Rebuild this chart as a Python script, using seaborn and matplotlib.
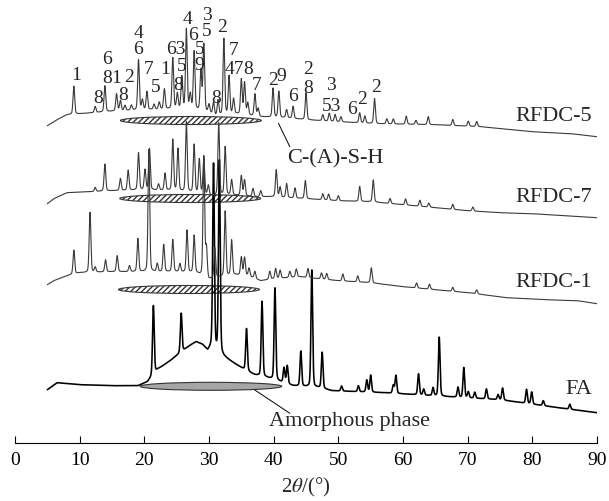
import numpy as np
import pandas as pd
import matplotlib
matplotlib.use("Agg")
import matplotlib.pyplot as plt
from matplotlib.patches import Ellipse
import seaborn as sns

# ---------------- data ----------------
# baselines: control points (2theta, plotted intensity incl. stacking offset)
fa_base_x = [5, 6.5, 10, 15, 19, 20.5, 22, 24, 26, 27, 28, 29, 29.8, 30.4, 32.3, 34, 35.5, 37, 39, 40.5, 43, 47, 49, 57, 67, 75, 84, 90]
fa_base_y = [53, 60, 58, 57, 57, 61, 73, 82, 92, 97, 101, 98, 92, 96, 86, 79, 73, 68, 65, 62, 57, 55, 52, 50, 46, 43, 35, 30]
fa_peak_pos = [21.4, 25.7, 30.7, 31.6, 35.8, 38.2, 40.2, 41.6, 42.1, 44.2, 45.9, 47.5, 50.5, 53.1, 54.4, 55.0,
               58.5, 58.9, 62.4, 63.2, 64.65, 65.6, 68.5, 69.4, 70.1, 71.1, 72.9, 74.7, 75.4, 79.1, 79.9, 81.7, 85.8]
fa_peak_amp = [69, 39, 184, 192, 42, 75, 92, 15, 18, 35, 117, 36, 5, 6, 12, 17,
               8, 18, 21, 6, 8, 59, 10, 30, 6, 6, 10, 5, 12, 14, 12, 5, 5]

r1_base_x = [5, 6, 8, 10, 15, 20, 25, 28, 30, 31, 34, 36, 38, 40, 44, 50, 55, 60, 65, 70, 76, 82, 87, 90]
r1_base_y = [158, 162, 167, 170, 171, 171, 171, 170, 163, 165, 168, 167, 162, 164, 166, 162, 160, 156, 153, 150, 145, 143, 142, 139]
r1_peak_pos = [9.1, 11.6, 12.4, 14.0, 15.8, 17.7, 19.0, 20.7, 22.0, 23.0, 24.4, 25.5, 26.6, 27.7, 29.2, 29.6,
               30.9, 32.5, 33.5, 35.0, 35.5, 36.2, 37.1, 39.4, 40.3, 41.0, 42.5, 43.5, 45.3, 47.4, 48.2,
               50.7, 53.0, 55.1, 62.1, 64.1, 67.7, 71.4]
r1_peak_amp = [24, 60, 5, 12, 16, 6, 33, 122, 8, 27, 32, 8, 42, 37, 120, 30,
               30, 65, 35, 18, 18, 8, 7, 8, 10, 8, 6, 8, 9, 6, 6,
               7, 6, 15, 5, 5, 4, 4]

r7_base_x = [5, 6, 8, 11.6, 15, 20, 25, 29, 30, 33, 37, 40, 45, 50, 55, 60, 65, 70, 75, 80, 85, 90]
r7_base_y = [239, 244, 250, 251, 252, 253, 252, 249, 247, 248, 246, 246, 244, 242, 241, 238, 235, 232, 230, 229, 227, 225]
r7_peak_pos = [12.4, 13.9, 16.3, 17.5, 19.1, 20.1, 20.8, 22.2, 23.2, 24.4, 25.2, 26.5, 27.7, 28.5, 29.2, 29.9,
               31.5, 32.5, 33.5, 35.0, 35.5, 36.8, 38.0, 40.4, 41.0, 42.0, 43.3, 44.9, 47.6, 48.5, 50.0,
               53.3, 55.4, 58.0, 60.4, 62.6, 64.0, 67.7, 70.8]
r7_peak_amp = [4, 27, 12, 20, 37, 20, 41, 6, 17, 51, 42, 70, 48, 34, 35, 10,
               72, 48, 15, 20, 16, 8, 6, 27, 10, 14, 10, 18, 6, 6, 5,
               15, 22, 5, 6, 6, 4, 5, 4]

r5_base_x = [5, 6.5, 8, 12, 16, 20, 25, 28, 30, 31, 34, 38, 42, 45, 50, 56, 65, 72, 80, 86, 90]
r5_base_y = [317, 323, 328, 330, 332, 333, 334, 333, 330, 327, 329, 326, 325, 323, 321, 319, 318, 316, 311, 309, 306]
r5_peak_pos = [9.1, 12.4, 13.9, 15.7, 16.3, 17.0, 18.0, 19.1, 19.7, 20.4, 21.5, 22.3, 23.1, 24.4, 25.1, 25.8,
               26.5, 27.1, 27.7, 28.75, 29.2, 30.0, 30.7, 31.4, 32.3, 33.1, 33.8, 35.0, 35.5, 36.0, 37.1,
               37.6, 39.9, 40.8, 42.0, 43.0, 45.0, 47.6, 48.6, 49.5, 50.4, 53.3, 54.1, 55.6, 57.5, 58.5,
               60.5, 62.0, 63.9, 67.7, 70.1, 71.4]
r5_peak_amp = [28, 6, 26, 17, 10, 5, 5, 50, 10, 18, 5, 7, 20, 51, 15, 32,
               80, 15, 58, 40, 67, 8, 12, 15, 76, 38, 15, 35, 32, 12, 22,
               8, 29, 26, 8, 12, 27, 6, 8, 7, 5, 10, 7, 25, 5, 5,
               8, 4, 8, 6, 5, 5]

sample_names = ["FA", "RFDC-1", "RFDC-7", "RFDC-5"]

# phase marks above RFDC-5: (label, 2theta, height)
mark_text = ["1", "8", "6", "8", "1", "2", "8", "4", "6", "7", "5", "1", "63", "5", "8", "4", "6", "3", "5",
             "5", "9", "2", "8", "7", "47", "8", "7", "2", "9", "6", "2", "8", "3", "53", "6", "2", "2"]
mark_x = [9.43, 12.78, 14.17, 14.17, 15.61, 17.67, 16.74, 19.06, 19.06, 20.60, 21.75, 23.29, 24.88, 25.76, 25.24,
          26.63, 27.56, 29.72, 29.63, 28.49, 28.49, 31.95, 31.17, 33.74, 33.85, 36.06, 37.36, 39.83, 41.11,
          43.01, 45.33, 45.33, 48.79, 49.0, 52.19, 53.74, 55.80]
mark_y = [367.7, 344.4, 382.7, 364.4, 364.4, 365.4, 347.7, 409.4, 392.7, 372.7, 355.4, 372.7, 392.7, 376, 357.7,
          423.4, 407.7, 427.7, 411, 393.4, 377.7, 415.4, 344.4, 392, 372.7, 372.7, 356.7, 362, 366,
          346, 373.4, 354.4, 357.7, 336, 332.7, 342.7, 355.4]

x_ticks = [0, 10, 20, 30, 40, 50, 60, 70, 80, 90]

# ---------------- build profiles ----------------
grid = np.arange(5.0, 90.0001, 0.02)


def profile(bx, by, pos, amp, fwhm=0.3):
    y = np.interp(grid, bx, by)
    for p, a in zip(pos, amp):
        d = (grid - p) / fwhm
        y = y + a * (0.75 * np.exp(-4 * np.log(2) * d ** 2) + 0.25 / (1 + 4 * d ** 2))
    return y


curves = {
    "FA": profile(fa_base_x, fa_base_y, fa_peak_pos, fa_peak_amp),
    "RFDC-1": profile(r1_base_x, r1_base_y, r1_peak_pos, r1_peak_amp),
    "RFDC-7": profile(r7_base_x, r7_base_y, r7_peak_pos, r7_peak_amp),
    "RFDC-5": profile(r5_base_x, r5_base_y, r5_peak_pos, r5_peak_amp),
}
df = pd.concat([pd.DataFrame({"tt": grid, "I": curves[n], "sample": n}) for n in sample_names],
               ignore_index=True)

# ---------------- plot ----------------
sns.set_theme(style="white")
plt.rcParams["font.family"] = ["Liberation Serif", "DejaVu Serif"]
plt.rcParams["mathtext.fontset"] = "stix"

fig = plt.figure(figsize=(6.09, 5.01), dpi=100)
ax = fig.add_axes([15 / 609, 58.3 / 501, 582 / 609, 1 - 58.3 / 501])
ax.set_xlim(0, 90)
ax.set_ylim(0, 442.7)

# hatched C-(A)-S-H ellipses and grey amorphous ellipse
for cx, cy in [(27.2, 322.2), (27.1, 244.2), (26.9, 153.2)]:
    ax.add_patch(Ellipse((cx, cy), 21.8, 8, facecolor="white", edgecolor="#333333",
                         hatch="//////", lw=0.8, zorder=1))
ax.add_patch(Ellipse((30.3, 56.4), 21.9, 8, facecolor="#a6a6a6", edgecolor="#333333", lw=0.8, zorder=1))

for n in sample_names:
    sub = df[df["sample"] == n]
    sns.lineplot(data=sub, x="tt", y="I", ax=ax, estimator=None, sort=False,
                 color="black" if n == "FA" else "#3a3a3a",
                 lw=1.15 if n == "FA" else 0.8, zorder=2)

# sample labels
for txt, yy in [("RFDC-5", 326), ("RFDC-7", 245.4), ("RFDC-1", 160.4), ("FA", 52.7)]:
    ax.text(89.3, yy, txt, ha="right", va="center", fontsize=16)

# phase marks
for t, xx, yy in zip(mark_text, mark_x, mark_y):
    ax.text(xx, yy, t, ha="center", va="center", fontsize=14)

# annotations
ax.plot([40.74, 42.5], [319.4, 296], color="black", lw=0.7)
ax.text(42.04, 283.4, "C-(A)-S-H", ha="left", va="center", fontsize=16)
ax.plot([37.09, 42.5], [52.7, 29.4], color="black", lw=0.7)
ax.text(39.3, 21, "Amorphous phase", ha="left", va="center", fontsize=16)

# axes styling
for s in ["left", "right", "top"]:
    ax.spines[s].set_visible(False)
ax.spines["bottom"].set_color("black")
ax.spines["bottom"].set_linewidth(0.8)
ax.set_xticks(x_ticks)
ax.set_yticks([])
ax.tick_params(axis="x", direction="in", length=5, width=0.8, pad=7, labelsize=14, colors="black", bottom=True)
ax.set_ylabel("")
ax.set_xlabel(r"2$\theta$/(°)", fontsize=15, labelpad=5)
ax.grid(False)

fig.savefig("out.png", dpi=100)
